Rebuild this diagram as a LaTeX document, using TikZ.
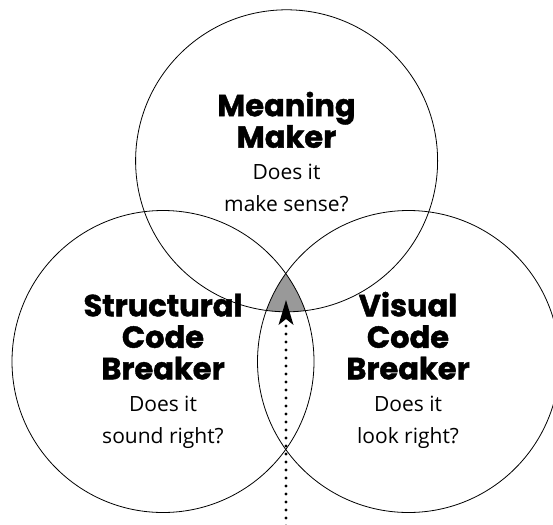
\documentclass[tikz,border=0pt]{standalone}
\usepackage{fontspec}
\usetikzlibrary{
    arrows.meta,
    positioning
}
\newfontfamily\headfont{Poppins}[BoldFeatures={FakeBold=1.4}]
\newfontfamily\askfont{Open Sans}

\begin{document}
\begin{tikzpicture} [x=1pt, y=-1pt,
    ring/.style={circle,draw=black,line width=0.8pt,
                 inner sep=0pt,minimum size=302pt},
    title/.style={align=center,anchor=base,inner sep=0pt,
                  font=\headfont\bfseries\fontsize{30.5}{31.5}\selectfont},
    question/.style={align=center,anchor=base,inner sep=0pt,
                  font=\askfont\fontsize{21}{31.5}\selectfont},
    overlap/.style={fill=black!40},
    pointer/.style={line width=3.4pt,line cap=round,
                  dash pattern=on 0pt off 8pt,
                  -{Stealth[length=25pt,width=15pt,inset=6pt,line width=0pt,fill=black]}}
]
    \clip (0,0) rectangle (553,524);

    % the part that all three share
    \begin{scope}
        \clip (286.6,160.8) circle (151pt);
        \clip (163,361.5) circle (151pt);
        \fill[overlap] (408.5,361.5) circle (151pt);
    \end{scope}

    \node[ring] (meaning)    at (286.6,160.8) {};
    \node[ring] (structural) at (163,361.5)   {};
    \node[ring] (visual)     at (408.5,361.5) {};

    % base anchor sits on the last line
    \node[title]    (meaning title)       at (286.5,147.7) {Meaning\\Maker};
    \node[question] (meaning question)    at (286.5,211)   {Does it\\make sense?};
    \node[title]    (structural title)    at (163,379.3)   {Structural\\Code\\Breaker};
    \node[question] (structural question) at (163,443.3)   {Does it\\sound right?};
    \node[title]    (visual title)        at (408,379.3)   {Visual\\Code\\Breaker};
    \node[question] (visual question)     at (408,443.3)   {Does it\\look right?};

    \coordinate (start) at (286,526);
    \coordinate (tip)   at (286,300);
    \draw[pointer] (start) -- (tip);
\end{tikzpicture}
\end{document}
